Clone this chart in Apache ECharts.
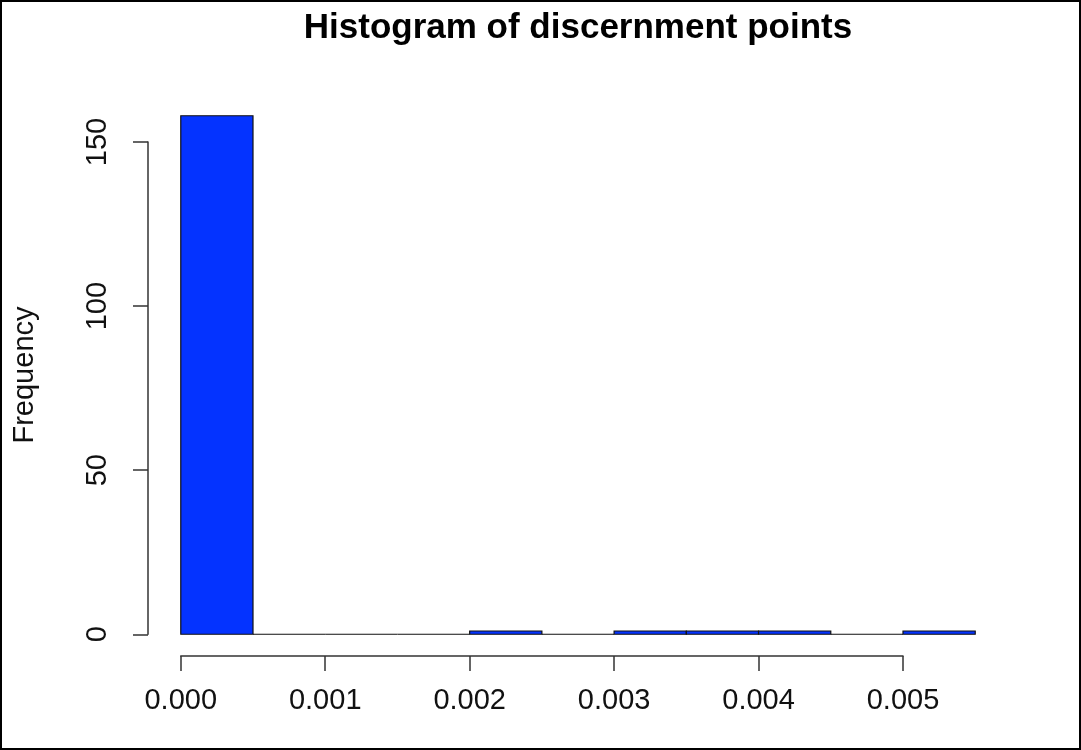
<!DOCTYPE html>
<html>
<head>
<meta charset="utf-8">
<script src="https://cdn.jsdelivr.net/npm/echarts@6/dist/echarts.min.js"></script>
<style>
  html, body { margin: 0; padding: 0; background: #fff; }
  #chart { width: 1081px; height: 750px; }
</style>
</head>
<body>
<div id="chart"></div>
<script>
// Histogram bins: left edges, right edges and counts
var binStart = [0.0000, 0.0005, 0.0010, 0.0015, 0.0020, 0.0025, 0.0030, 0.0035, 0.0040, 0.0045, 0.0050];
var binEnd   = [0.0005, 0.0010, 0.0015, 0.0020, 0.0025, 0.0030, 0.0035, 0.0040, 0.0045, 0.0050, 0.0055];
var counts   = [158, 0, 0, 0, 1, 0, 1, 1, 1, 0, 1];

var xTicks = [0, 0.001, 0.002, 0.003, 0.004, 0.005];
var yTicks = [0, 50, 100, 150];

var FONT = '"Liberation Sans", Arial, Helvetica, sans-serif';

// plot range padded by 4% as in base R graphics
var xLo = 0, xHi = binEnd[binEnd.length - 1];
var yLo = 0, yHi = Math.max.apply(null, counts);
var xPad = (xHi - xLo) * 0.04, yPad = (yHi - yLo) * 0.04;

var W = 1081, H = 750;
var plotLeft = 149, plotRight = 1007, plotTop = 95, plotBottom = 655;
var pxPerX = (plotRight - plotLeft) / ((xHi + xPad) - (xLo - xPad));
var pxPerY = (plotBottom - plotTop) / ((yHi + yPad) - (yLo - yPad));

function xPix(v) { return plotLeft + (v - (xLo - xPad)) * pxPerX; }
function yPix(v) { return plotBottom - (v - (yLo - yPad)) * pxPerY; }

var xFirst = xTicks[0], xLast = xTicks[xTicks.length - 1];
var yFirst = yTicks[0], yLast = yTicks[yTicks.length - 1];

var bins = binStart.map(function (s, i) { return [s, binEnd[i], counts[i]]; });

var chart = echarts.init(document.getElementById('chart'));
chart.setOption({
  backgroundColor: '#ffffff',
  animation: false,
  title: {
    text: 'Histogram of discernment points',
    left: (plotLeft + plotRight) / 2 - 5,
    textAlign: 'center',
    top: 6,
    textStyle: { fontFamily: FONT, fontSize: 35, fontWeight: 'bold', color: '#000' }
  },
  graphic: [{
    type: 'rect',
    shape: { x: 1, y: 1, width: W - 2, height: H - 2 },
    style: { fill: 'none', stroke: '#000', lineWidth: 2 },
    silent: true
  }],
  grid: [
    // data region
    { left: plotLeft, right: W - plotRight, top: plotTop, bottom: H - plotBottom },
    // x axis spanning first to last tick
    { left: xPix(xFirst), right: W - xPix(xLast), top: plotTop, bottom: H - 656 },
    // y axis spanning first to last tick
    { left: 148, width: 100, top: yPix(yLast), bottom: H - yPix(yFirst) }
  ],
  xAxis: [
    { gridIndex: 0, type: 'value', min: xLo - xPad, max: xHi + xPad, show: false },
    {
      gridIndex: 1, type: 'value', min: xFirst, max: xLast, interval: 0.001,
      position: 'bottom',
      axisLine: { show: true, lineStyle: { color: '#333', width: 1.5 } },
      axisTick: { show: true, length: 15, lineStyle: { color: '#333', width: 1.5 } },
      splitLine: { show: false },
      axisLabel: {
        margin: 30, fontFamily: FONT, fontSize: 29, color: '#111',
        formatter: function (v) { return v.toFixed(3); }
      }
    },
    { gridIndex: 2, type: 'value', show: false }
  ],
  yAxis: [
    {
      gridIndex: 0, type: 'value', min: yLo - yPad, max: yHi + yPad,
      axisLine: { show: false }, axisTick: { show: false },
      axisLabel: { show: false }, splitLine: { show: false },
      name: 'Frequency', nameLocation: 'middle', nameGap: 110, nameRotate: 90,
      nameTextStyle: { fontFamily: FONT, fontSize: 29, color: '#111' }
    },
    { gridIndex: 1, type: 'value', show: false },
    {
      gridIndex: 2, type: 'value', min: yFirst, max: yLast, interval: 50,
      position: 'left',
      axisLine: { show: true, lineStyle: { color: '#333', width: 1.5 } },
      axisTick: { show: true, length: 15, lineStyle: { color: '#333', width: 1.5 } },
      splitLine: { show: false },
      axisLabel: { margin: 36, fontFamily: FONT, fontSize: 29, color: '#111', rotate: 90 }
    }
  ],
  series: [{
    type: 'custom',
    xAxisIndex: 0,
    yAxisIndex: 0,
    data: bins,
    encode: { x: [0, 1], y: 2 },
    renderItem: function (params, api) {
      var p0 = api.coord([api.value(0), 0]);
      var p1 = api.coord([api.value(1), api.value(2)]);
      return {
        type: 'rect',
        shape: { x: p0[0], y: p1[1], width: p1[0] - p0[0], height: p0[1] - p1[1] },
        style: { fill: '#0433ff', stroke: '#111', lineWidth: 1.2 }
      };
    }
  }]
});
</script>
</body>
</html>
